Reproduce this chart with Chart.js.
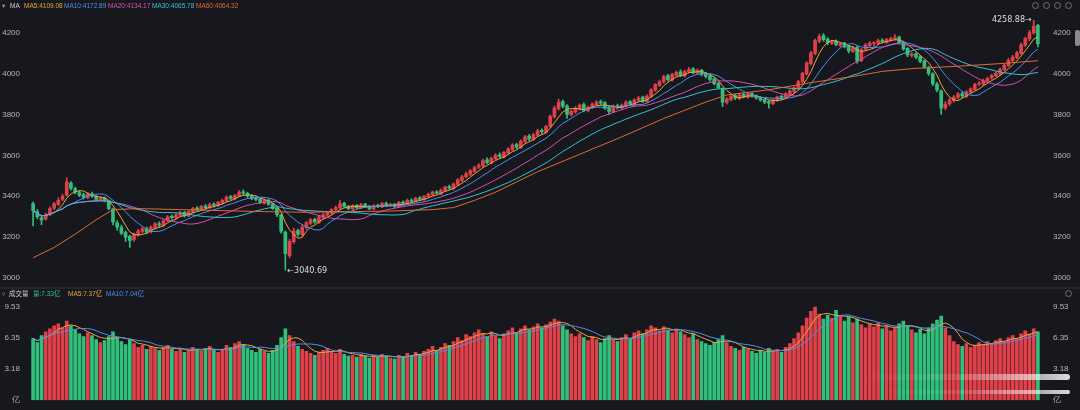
<!DOCTYPE html>
<html>
<head>
<meta charset="utf-8" />
<title>K线 成交量</title>
<style>
  body { margin: 0; width: 1080px; height: 410px; overflow: hidden; position: relative; background: #17181d;
         font-family: "Liberation Sans", "DejaVu Sans", "Noto Sans CJK SC", sans-serif; }
  canvas { position: absolute; left: 0; }
  #priceChart { top: 0; }
  #volChart { top: 289px; }
  .divider { position: absolute; left: 0; top: 287px; width: 1080px; height: 2px; background: #25262c; }
  .hdr { position: absolute; font-size: 6.5px; line-height: 9px; white-space: nowrap; }
  .icon { position: absolute; top: 2px; width: 5px; height: 5px; border: 1px solid #707178; border-radius: 50%; }
  .glare { position: absolute; height: 5px; border-radius: 3px;
           background: linear-gradient(to right, rgba(255,255,255,0), rgba(255,255,255,0.12) 45%, rgba(255,255,255,0.85)); }
</style>
</head>
<body>
<canvas id="priceChart" width="1080" height="288"></canvas>
<div class="divider"></div>
<canvas id="volChart" width="1080" height="121"></canvas>

<div class="hdr" style="left:2px;top:1px;color:#9a9ba1">▾</div>
<div class="hdr" style="left:10px;top:1px;color:#d0d0d4">MA</div>
<div class="hdr" style="left:24px;top:1px;color:#e8a83c">MA5:4109.08</div>
<div class="hdr" style="left:64px;top:1px;color:#4d8ff0">MA10:4172.89</div>
<div class="hdr" style="left:108px;top:1px;color:#d84fb3">MA20:4134.17</div>
<div class="hdr" style="left:152px;top:1px;color:#35c2d4">MA30:4065.78</div>
<div class="hdr" style="left:196px;top:1px;color:#e26a32">MA60:4064.32</div>

<div class="hdr" style="left:2px;top:289px;color:#9a9ba1">▿</div>
<div class="hdr" style="left:9px;top:289px;color:#d0d0d4">成交量</div>
<div class="hdr" style="left:33px;top:289px;color:#32c07d">量:7.33亿</div>
<div class="hdr" style="left:68px;top:289px;color:#e8a83c">MA5:7.37亿</div>
<div class="hdr" style="left:106px;top:289px;color:#4d8ff0">MA10:7.04亿</div>

<div class="icon" style="left:1032px"></div>
<div class="icon" style="left:1043px"></div>
<div class="icon" style="left:1054px"></div>
<div class="icon" style="left:1065px"></div>
<div class="icon" style="left:1065px;top:290px"></div>
<div style="position:absolute;left:1075px;top:30px;width:5px;height:16px;background:#8a8b90;border-radius:2px"></div>

<div class="glare" style="left:860px;top:374px;width:210px;height:6px"></div>
<div class="glare" style="left:880px;top:390px;width:190px;height:4px"></div>

<script src="https://cdn.jsdelivr.net/npm/chart.js@4/dist/chart.umd.min.js"></script>
<script>
  // daily candles (about 240 sessions)
  const opens = [
    3365, 3325, 3295, 3290, 3312, 3342, 3360, 3385, 3405, 3465,
    3438, 3418, 3408, 3392, 3412, 3400, 3382, 3392, 3378, 3338,
    3270, 3248, 3224, 3205, 3188, 3212, 3228, 3242, 3226, 3248,
    3266, 3258, 3282, 3302, 3296, 3308, 3322, 3304, 3322, 3342,
    3334, 3352, 3346, 3362, 3354, 3368, 3378, 3398, 3388, 3402,
    3422, 3414, 3402, 3392, 3386, 3368, 3382, 3362, 3342, 3308,
    3225, 3110, 3178, 3232, 3212, 3248, 3268, 3288, 3272, 3298,
    3308, 3318, 3336, 3344, 3366, 3352, 3338, 3356, 3344, 3362,
    3352, 3338, 3356, 3348, 3366, 3354, 3362, 3348, 3372, 3364,
    3382, 3374, 3392, 3384, 3398, 3408, 3422, 3412, 3428, 3448,
    3438, 3458, 3478, 3496, 3508, 3522, 3542, 3548, 3578, 3562,
    3584, 3604, 3592, 3612, 3628, 3652, 3638, 3668, 3694, 3678,
    3698, 3722, 3712, 3742, 3788, 3828, 3862, 3842, 3798, 3812,
    3828, 3848, 3818, 3834, 3848, 3862, 3858, 3832, 3812, 3842,
    3834, 3842, 3862, 3848, 3868, 3884, 3862, 3888, 3918, 3942,
    3958, 3988, 3968, 3992, 4008, 3988, 4008, 4022, 4002, 4016,
    3998, 3988, 3972, 3952, 3925, 3858, 3872, 3892, 3878, 3898,
    3884, 3902, 3892, 3882, 3872, 3862, 3852, 3868, 3888, 3878,
    3898, 3912, 3928, 3958, 3998, 4048, 4098, 4158, 4185, 4168,
    4148, 4158, 4138, 4148, 4132, 4108, 4128, 4062, 4118, 4136,
    4145, 4148, 4162, 4152, 4162, 4168, 4178, 4152, 4122, 4088,
    4096, 4082, 4062, 4028, 3998, 3948, 3915, 3832, 3852, 3868,
    3884, 3902, 3888, 3908, 3922, 3948, 3948, 3962, 3978, 3988,
    3998, 4018, 4038, 4062, 4078, 4098, 4138, 4168, 4198, 4235
  ];
  const highs = [
    3372, 3335, 3305, 3318, 3348, 3370, 3392, 3410, 3490, 3472,
    3445, 3428, 3415, 3418, 3420, 3405, 3398, 3396, 3382, 3342,
    3282, 3260, 3230, 3210, 3220, 3238, 3248, 3250, 3256, 3272,
    3275, 3286, 3306, 3310, 3316, 3328, 3326, 3330, 3346, 3350,
    3356, 3360, 3368, 3368, 3375, 3386, 3402, 3405, 3410, 3428,
    3432, 3420, 3408, 3398, 3390, 3388, 3386, 3366, 3345, 3312,
    3230, 3190, 3245, 3240, 3258, 3278, 3292, 3294, 3306, 3318,
    3326, 3340, 3352, 3380, 3372, 3356, 3360, 3360, 3366, 3366,
    3356, 3360, 3362, 3370, 3372, 3366, 3366, 3375, 3378, 3386,
    3388, 3395, 3398, 3405, 3416, 3426, 3428, 3436, 3450, 3455,
    3466, 3486, 3502, 3518, 3530, 3548, 3560, 3582, 3588, 3592,
    3608, 3612, 3620, 3638, 3658, 3660, 3676, 3698, 3702, 3708,
    3728, 3730, 3746, 3798, 3840, 3875, 3870, 3848, 3822, 3838,
    3852, 3856, 3842, 3856, 3868, 3870, 3862, 3840, 3846, 3850,
    3852, 3866, 3868, 3876, 3888, 3890, 3896, 3926, 3950, 3968,
    3992, 3996, 4000, 4012, 4018, 4016, 4030, 4028, 4022, 4020,
    4004, 3994, 3978, 3956, 3930, 3882, 3896, 3898, 3900, 3904,
    3908, 3906, 3896, 3886, 3876, 3868, 3876, 3890, 3894, 3906,
    3920, 3936, 3966, 4006, 4058, 4108, 4168, 4192, 4195, 4175,
    4162, 4164, 4152, 4152, 4136, 4132, 4134, 4122, 4146, 4155,
    4156, 4168, 4170, 4172, 4178, 4190, 4182, 4158, 4126, 4102,
    4102, 4088, 4066, 4035, 4004, 3956, 3920, 3862, 3878, 3892,
    3908, 3910, 3916, 3930, 3952, 3960, 3972, 3982, 3996, 4008,
    4026, 4046, 4072, 4088, 4108, 4148, 4178, 4210, 4258.88, 4240
  ];
  const lows = [
    3255, 3290, 3262, 3283, 3305, 3335, 3355, 3378, 3400, 3430,
    3412, 3398, 3386, 3388, 3394, 3378, 3378, 3372, 3335, 3260,
    3235, 3212, 3180, 3150, 3180, 3205, 3220, 3218, 3220, 3240,
    3250, 3252, 3276, 3288, 3290, 3302, 3298, 3300, 3318, 3328,
    3330, 3338, 3340, 3348, 3350, 3362, 3372, 3384, 3382, 3398,
    3405, 3395, 3384, 3378, 3364, 3362, 3355, 3336, 3300, 3220,
    3040.69, 3100, 3170, 3205, 3205, 3240, 3262, 3268, 3268, 3290,
    3302, 3312, 3330, 3340, 3346, 3334, 3335, 3340, 3340, 3345,
    3334, 3334, 3345, 3344, 3350, 3350, 3345, 3344, 3360, 3360,
    3368, 3370, 3380, 3380, 3394, 3404, 3410, 3408, 3424, 3434,
    3432, 3452, 3472, 3490, 3502, 3518, 3536, 3544, 3558, 3558,
    3578, 3588, 3588, 3606, 3624, 3632, 3634, 3662, 3672, 3674,
    3694, 3706, 3708, 3738, 3782, 3820, 3832, 3780, 3792, 3806,
    3822, 3812, 3812, 3828, 3842, 3848, 3824, 3800, 3808, 3826,
    3826, 3838, 3844, 3842, 3862, 3858, 3858, 3884, 3912, 3936,
    3952, 3962, 3962, 3986, 3984, 3982, 4002, 3998, 3996, 3988,
    3978, 3962, 3944, 3924, 3838, 3850, 3866, 3872, 3872, 3880,
    3878, 3884, 3874, 3864, 3852, 3830, 3848, 3862, 3872, 3874,
    3892, 3906, 3922, 3952, 3992, 4042, 4090, 4150, 4158, 4140,
    4140, 4134, 4130, 4124, 4100, 4102, 4050, 4058, 4112, 4130,
    4132, 4142, 4148, 4146, 4158, 4162, 4144, 4114, 4082, 4080,
    4072, 4052, 4024, 3990, 3940, 3910, 3800, 3822, 3842, 3860,
    3876, 3882, 3882, 3902, 3918, 3940, 3942, 3956, 3972, 3984,
    3992, 4012, 4034, 4056, 4072, 4094, 4132, 4160, 4192, 4130
  ];
  const closes = [
    3330, 3300, 3285, 3310, 3340, 3365, 3380, 3400, 3470, 3440,
    3420, 3405, 3395, 3410, 3400, 3385, 3390, 3380, 3340, 3275,
    3250, 3220, 3200, 3185, 3215, 3230, 3240, 3225, 3250, 3265,
    3260, 3280, 3300, 3295, 3310, 3320, 3305, 3325, 3340, 3335,
    3350, 3345, 3360, 3355, 3370, 3380, 3395, 3390, 3405, 3420,
    3415, 3400, 3390, 3385, 3370, 3380, 3360, 3340, 3310, 3230,
    3120, 3180, 3230, 3215, 3250, 3270, 3285, 3275, 3300, 3310,
    3320, 3335, 3345, 3365, 3350, 3340, 3355, 3345, 3360, 3350,
    3340, 3355, 3350, 3365, 3355, 3360, 3350, 3370, 3365, 3380,
    3375, 3390, 3385, 3400, 3410, 3420, 3415, 3430, 3445, 3440,
    3460, 3480, 3495, 3510, 3525, 3540, 3550, 3575, 3565, 3585,
    3600, 3595, 3615, 3630, 3650, 3640, 3670, 3690, 3680, 3700,
    3720, 3715, 3740, 3790, 3830, 3860, 3840, 3800, 3815, 3830,
    3845, 3820, 3835, 3850, 3860, 3855, 3830, 3815, 3840, 3835,
    3845, 3860, 3850, 3870, 3880, 3865, 3890, 3920, 3945, 3960,
    3985, 3970, 3995, 4005, 3990, 4010, 4020, 4005, 4015, 3995,
    3985, 3970, 3950, 3930, 3860, 3875, 3890, 3880, 3895, 3885,
    3900, 3890, 3880, 3870, 3860, 3855, 3870, 3885, 3880, 3900,
    3915, 3930, 3960, 4000, 4050, 4100, 4160, 4180, 4165, 4150,
    4155, 4140, 4145, 4130, 4110, 4125, 4060, 4115, 4140, 4148,
    4150, 4160, 4155, 4165, 4170, 4175, 4150, 4120, 4090, 4095,
    4080, 4060, 4030, 4000, 3950, 3920, 3830, 3850, 3870, 3885,
    3900, 3890, 3910, 3925, 3945, 3950, 3965, 3975, 3990, 4000,
    4020, 4040, 4065, 4080, 4100, 4140, 4170, 4200, 4230, 4145
  ];
  // turnover in 亿
  const volumes = [
    6.3, 5.9, 6.6, 7.0, 7.3, 7.6, 7.8, 7.4, 8.1, 7.6,
    7.2, 6.8, 6.5, 6.9, 6.6, 6.2, 5.9, 6.1, 6.5, 7.0,
    6.4, 6.0, 5.7, 6.2, 5.8, 5.4, 5.6, 5.2, 5.5, 5.3,
    5.1, 5.4, 5.6, 5.2, 5.0, 5.3, 4.9, 5.1, 5.4, 5.2,
    5.0, 5.3, 5.5, 5.1, 4.9, 5.2, 5.6, 5.4, 5.8, 6.0,
    5.7, 5.3, 5.1, 4.9, 5.2, 5.0, 4.8, 5.1, 5.6, 6.4,
    7.3, 6.6, 6.0, 5.5, 5.2, 5.0, 4.8, 4.6, 4.9, 5.1,
    5.3, 5.0, 4.8, 5.2, 4.7, 4.5, 4.6, 4.4, 4.7, 4.5,
    4.3, 4.6, 4.4, 4.7, 4.5, 4.3, 4.2, 4.6, 4.4, 4.8,
    4.6, 4.9, 4.7, 5.0, 5.2, 5.5, 5.1, 5.4, 5.8, 5.6,
    6.0, 6.4, 6.1, 6.7, 6.5, 6.9, 7.2, 6.8, 6.5, 7.0,
    6.6, 6.3, 6.8, 7.1, 7.4, 6.9, 7.3, 7.6, 7.2, 7.5,
    7.8, 7.4, 7.7, 8.0, 8.3, 8.1, 7.6, 7.2, 6.8, 6.5,
    6.8, 6.4, 6.1, 6.5, 6.2, 5.9, 6.3, 6.6, 6.2, 6.0,
    6.4, 6.7, 6.3, 6.9, 7.1, 6.8, 7.2, 7.6, 7.4, 7.1,
    7.5, 7.2, 6.9, 7.3, 7.0, 6.7, 6.4, 6.8, 6.2, 6.0,
    5.8, 5.6, 5.9, 6.2, 6.6, 5.9, 5.5, 5.3, 5.1, 5.4,
    5.2, 5.0, 4.8, 5.1, 4.9, 5.3, 5.0, 5.2, 4.9, 5.4,
    5.8, 6.3, 6.9, 7.6, 8.4, 9.1, 9.53, 8.8, 8.3, 8.7,
    8.4, 9.2, 8.6, 8.1, 8.5, 7.9, 8.3, 7.7, 7.4, 7.8,
    7.5, 7.9, 7.3, 7.6, 7.1, 7.4, 7.8, 8.1, 7.6, 7.2,
    6.9, 7.3, 6.8, 7.4, 7.8, 8.2, 8.6, 7.4, 6.6, 6.0,
    5.7, 5.5, 5.8, 5.4, 5.6, 5.9, 5.7, 6.0, 5.8, 6.1,
    6.3, 6.0, 6.4, 6.6, 6.3, 6.8, 7.1, 6.8, 7.3, 7.0
  ];
  const longMaDays = [0, 5, 10, 15, 19, 25, 35, 45, 55, 65, 75, 85, 95, 100, 105, 110, 115, 120,
                      130, 140, 150, 160, 165, 175, 185, 195, 202, 210, 220, 230, 239];
  const longMaValues = [3100, 3150, 3215, 3285, 3335, 3340, 3335, 3330, 3325, 3322, 3325, 3328, 3335, 3345,
                        3380, 3420, 3470, 3520, 3605, 3690, 3780, 3860, 3895, 3920, 3955, 3985, 4010,
                        4025, 4035, 4048, 4062];
  const priceTicks = [3000, 3200, 3400, 3600, 3800, 4000, 4200];
  const volTicks = [0, 3.18, 6.35, 9.53];

  const UP = '#e0404a';
  const DOWN = '#30c07c';
  const labelColor = '#b4b5ba';
  const days = closes.map((c, i) => String(i + 1));

  function movingAvg(src, n) {
    return src.map((v, i) => {
      const part = src.slice(Math.max(0, i - n + 1), i + 1);
      return part.reduce((a, b) => a + b, 0) / part.length;
    });
  }
  const longMa = new Array(closes.length).fill(null);
  longMaDays.forEach((d, k) => { longMa[d] = longMaValues[k]; });

  const candleColor = (ctx) => closes[ctx.dataIndex] >= opens[ctx.dataIndex] ? UP : DOWN;

  function maLine(data, color) {
    return { type: 'line', data: data, borderColor: color, borderWidth: 1, pointRadius: 0,
             tension: 0, spanGaps: true, order: 0 };
  }

  function sideAxis(pos, width, min, max, tickList, fmt) {
    return {
      position: pos, min: min, max: max,
      grid: { display: false }, border: { display: false },
      ticks: { color: labelColor, font: { size: 8, family: 'Liberation Sans' }, padding: pos === 'left' ? 3 : 5,
               callback: fmt },
      afterBuildTicks: (s) => { s.ticks = tickList.map(v => ({ value: v })); },
      afterFit: (s) => { s.width = width; }
    };
  }

  // high / low markers
  const extremeLabels = {
    id: 'extremeLabels',
    afterDatasetsDraw(chart) {
      const { ctx, scales } = chart;
      const hi = highs.indexOf(Math.max(...highs));
      const lo = lows.indexOf(Math.min(...lows));
      ctx.save();
      ctx.font = '8px "DejaVu Sans"';
      ctx.fillStyle = '#dcdce0';
      ctx.textBaseline = 'middle';
      ctx.textAlign = 'right';
      ctx.fillText(highs[hi].toFixed(2) + '→', scales.x.getPixelForValue(hi) - 2, scales.y.getPixelForValue(highs[hi]));
      ctx.textAlign = 'left';
      ctx.fillText('←' + lows[lo].toFixed(2), scales.x.getPixelForValue(lo) + 2, scales.y.getPixelForValue(lows[lo]) + 1);
      ctx.restore();
    }
  };

  new Chart(document.getElementById('priceChart'), {
    type: 'bar',
    data: {
      labels: days,
      datasets: [
        { data: highs.map((h, i) => [lows[i], h]), backgroundColor: candleColor, barThickness: 1, grouped: false, order: 2 },
        { data: opens.map((o, i) => [o, closes[i]]), backgroundColor: candleColor, barThickness: 3, grouped: false,
          minBarLength: 1, order: 1 },
        maLine(longMa, '#e26a32'),
        maLine(movingAvg(closes, 30), '#35c2d4'),
        maLine(movingAvg(closes, 20), '#d84fb3'),
        maLine(movingAvg(closes, 10), '#4d8ff0'),
        maLine(movingAvg(closes, 5), '#e8a83c')
      ]
    },
    options: {
      responsive: false, animation: false,
      layout: { padding: { top: 12, bottom: 3 } },
      plugins: { legend: { display: false }, tooltip: { enabled: false } },
      scales: {
        x: { display: false, offset: true },
        y: sideAxis('left', 31, 3000, 4300, priceTicks, v => v),
        y2: sideAxis('right', 40, 3000, 4300, priceTicks, v => v)
      }
    },
    plugins: [extremeLabels]
  });

  const volFmt = v => v === 0 ? '亿' : v.toFixed(2);
  new Chart(document.getElementById('volChart'), {
    type: 'bar',
    data: {
      labels: days,
      datasets: [
        maLine(movingAvg(volumes, 10), '#4d8ff0'),
        maLine(movingAvg(volumes, 5), '#e8a83c'),
        { data: volumes, backgroundColor: candleColor, barThickness: 3, order: 1 }
      ]
    },
    options: {
      responsive: false, animation: false,
      layout: { padding: { top: 3, bottom: 7 } },
      plugins: { legend: { display: false }, tooltip: { enabled: false } },
      scales: {
        x: { display: false, offset: true },
        y: sideAxis('left', 31, 0, 10.37, volTicks, volFmt),
        y2: sideAxis('right', 40, 0, 10.37, volTicks, volFmt)
      }
    }
  });
</script>
</body>
</html>
